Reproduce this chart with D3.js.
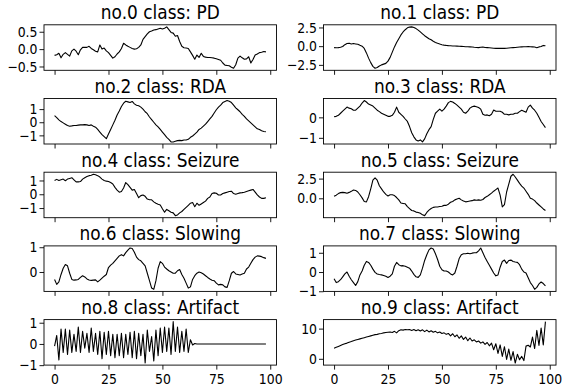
<!DOCTYPE html>
<html>
<head>
<meta charset="utf-8">
<script src="https://cdn.jsdelivr.net/npm/d3@7"></script>
<style>
  body { margin: 0; background: #fff; }
  svg { display: block; font-family: "DejaVu Sans", sans-serif; }
</style>
</head>
<body>
<div id="chart"></div>
<script>
// titles of the 10 panels
const titles = [
  'no.0 class: PD', 'no.1 class: PD',
  'no.2 class: RDA', 'no.3 class: RDA',
  'no.4 class: Seizure', 'no.5 class: Seizure',
  'no.6 class: Slowing', 'no.7 class: Slowing',
  'no.8 class: Artifact', 'no.9 class: Artifact'
];

// series values (one sample per index, 0..98)
const s0 = [-0.18,-0.16,-0.12,-0.25,-0.15,-0.1,-0.15,-0.2,-0.05,0.0,-0.06,-0.16,-0.02,0.05,0.05,0.05,0.08,0.02,-0.02,-0.06,
  -0.08,0.12,0.0,0.03,-0.05,-0.1,-0.18,-0.26,-0.22,-0.14,-0.08,0.02,0.17,0.12,0.08,0.05,0.02,0.0,0.01,0.05,
  0.12,0.28,0.36,0.44,0.5,0.52,0.55,0.56,0.58,0.6,0.58,0.6,0.64,0.56,0.48,0.46,0.37,0.39,0.22,0.08,
  0.04,0.03,0.02,-0.08,-0.18,-0.29,-0.17,-0.24,-0.12,-0.21,-0.23,-0.24,-0.24,-0.25,-0.26,-0.28,-0.3,-0.32,-0.4,-0.46,
  -0.47,-0.48,-0.52,-0.55,-0.45,-0.26,-0.2,-0.25,-0.29,-0.28,-0.22,-0.4,-0.3,-0.17,-0.14,-0.1,-0.09,-0.07,-0.08];
const s1 = [-0.2,-0.22,-0.2,-0.15,-0.05,0.2,0.35,0.4,0.3,0.35,0.3,0.25,0.12,0.0,-0.3,-0.9,-1.6,-2.2,-2.7,-2.95,
  -2.85,-2.65,-2.5,-2.4,-2.3,-2.0,-1.5,-0.8,-0.1,0.5,1.0,1.5,1.9,2.2,2.45,2.55,2.58,2.5,2.35,2.15,
  1.9,1.65,1.4,1.2,1.0,0.85,0.65,0.5,0.38,0.28,0.2,0.14,0.1,0.07,0.05,0.03,0.02,0.0,-0.02,-0.03,
  -0.05,-0.07,-0.08,-0.1,-0.12,-0.15,-0.17,-0.2,-0.15,-0.12,-0.18,-0.2,-0.22,-0.25,-0.28,-0.3,-0.3,-0.3,-0.3,-0.3,
  -0.28,-0.25,-0.22,-0.2,-0.18,-0.15,-0.12,-0.1,-0.08,-0.07,-0.05,-0.08,-0.1,-0.12,-0.2,-0.1,-0.05,0.1,0.05];
const s2 = [0.5,0.35,0.18,0.05,-0.05,-0.15,-0.25,-0.3,-0.28,-0.25,-0.25,-0.22,-0.2,-0.2,-0.18,-0.2,-0.25,-0.2,-0.3,-0.38,
  -0.55,-0.75,-0.95,-1.1,-1.25,-0.9,-0.55,-0.2,0.15,0.55,0.85,1.2,1.45,1.6,1.55,1.5,1.58,1.4,1.3,1.25,
  1.15,1.0,0.8,0.65,0.4,0.2,0.0,-0.2,-0.35,-0.55,-0.75,-0.95,-1.15,-1.3,-1.5,-1.5,-1.45,-1.4,-1.38,-1.4,
  -1.35,-1.35,-1.3,-1.15,-1.05,-0.9,-0.75,-0.55,-0.45,-0.3,-0.15,0.05,0.25,0.45,0.7,0.95,1.15,1.3,1.5,1.58,
  1.65,1.6,1.5,1.3,1.1,0.95,0.8,0.6,0.45,0.25,0.1,-0.05,-0.2,-0.35,-0.5,-0.55,-0.65,-0.7,-0.72];
const s3 = [0.03,0.05,0.1,0.2,0.3,0.4,0.5,0.45,0.42,0.35,0.35,0.45,0.55,0.7,0.82,0.75,0.65,0.6,0.55,0.45,
  0.35,0.28,0.2,0.15,0.1,0.05,0.05,0.1,0.25,0.5,0.25,0.15,0.05,-0.08,-0.2,-0.45,-0.75,-0.95,-1.1,-1.15,
  -1.1,-1.2,-1.05,-0.8,-0.6,-0.45,-0.1,0.2,0.3,0.4,0.3,0.4,0.55,0.72,0.78,0.75,0.68,0.6,0.5,0.4,
  0.25,0.2,0.3,0.45,0.52,0.55,0.52,0.48,0.4,0.15,0.1,0.12,0.08,0.15,0.36,0.3,0.3,0.3,0.25,0.15,
  0.15,0.12,0.15,0.15,0.2,0.2,0.28,0.35,0.3,0.25,0.5,0.6,0.45,0.35,0.2,0.0,-0.2,-0.35,-0.5];
const s4 = [1.0,1.08,1.0,1.05,1.1,0.98,1.1,1.15,1.2,1.05,0.9,0.9,0.92,1.1,1.2,1.28,1.35,1.38,1.45,1.42,
  1.35,1.25,1.1,1.0,0.95,0.92,0.85,0.75,0.5,0.3,0.15,0.2,0.45,0.85,0.7,0.5,0.3,0.35,0.05,-0.25,
  -0.1,-0.05,-0.15,-0.35,-0.4,-0.4,-0.55,-0.65,-0.72,-0.78,-1.05,-1.3,-1.1,-1.2,-1.3,-1.35,-1.55,-1.5,-1.35,-1.25,
  -1.1,-0.95,-0.8,-0.65,-0.6,-0.9,-0.65,-0.8,-0.7,-0.6,-0.5,-0.3,-0.2,0.05,0.1,0.07,-0.05,-0.05,0.05,0.1,
  0.15,0.2,0.22,0.05,0.0,0.05,0.1,0.12,0.15,0.2,0.25,0.3,0.35,0.15,-0.05,-0.2,-0.3,-0.3,-0.25];
const s5 = [0.25,0.4,0.6,0.72,0.75,0.72,0.65,0.75,0.88,1.05,1.0,0.8,0.45,0.05,-0.4,-0.45,0.2,1.2,2.3,2.6,
  2.3,1.6,1.2,0.8,0.5,0.3,0.45,0.45,0.35,0.1,-0.2,-0.6,-0.65,-0.7,-1.05,-1.3,-1.55,-1.6,-1.75,-1.8,
  -1.9,-2.1,-2.2,-1.8,-1.5,-1.3,-1.15,-1.1,-1.1,-1.05,-1.0,-0.9,-0.9,-0.75,-0.5,-0.4,-0.2,-0.1,0.0,-0.2,
  -0.35,-0.45,-0.4,-0.35,-0.3,-0.2,-0.25,-0.2,-0.25,-0.15,0.1,0.25,0.45,0.65,0.9,1.1,1.3,0.4,-1.1,-0.8,
  0.8,1.8,2.8,3.05,2.7,2.3,1.9,1.55,1.3,0.9,0.5,0.0,-0.1,-0.3,-0.6,-0.85,-1.1,-1.35,-1.55];
const s6 = [-0.3,-0.5,-0.4,-0.1,0.15,0.3,0.25,-0.05,-0.3,-0.33,-0.32,-0.3,-0.22,-0.15,-0.2,-0.28,-0.32,-0.34,-0.33,-0.32,
  -0.4,-0.33,-0.25,-0.17,-0.1,0.18,0.28,0.35,0.45,0.55,0.65,0.7,0.65,0.78,0.88,0.97,0.95,0.8,0.6,0.5,
  0.45,0.35,0.25,-0.05,-0.35,-0.65,-0.7,-0.35,0.15,0.42,0.35,0.2,0.12,0.05,0.0,-0.05,-0.05,0.05,0.1,-0.1,
  -0.25,-0.45,-0.65,-0.6,-0.3,-0.15,-0.05,0.0,-0.03,-0.08,-0.15,-0.22,-0.28,-0.33,-0.35,-0.45,-0.52,-0.5,-0.52,-0.6,
  -0.62,-0.35,-0.05,0.02,-0.08,-0.1,-0.12,-0.08,-0.05,0.12,0.2,0.35,0.5,0.6,0.65,0.64,0.62,0.58,0.55];
const s7 = [-0.35,-0.55,-0.5,-0.4,-0.25,-0.1,0.0,-0.22,-0.4,-0.55,-0.7,-0.5,-0.15,0.05,0.35,0.55,0.5,0.35,0.15,-0.02,
  -0.1,-0.13,-0.15,-0.18,-0.22,-0.28,-0.22,-0.1,0.3,0.5,0.38,0.32,0.33,0.3,0.25,0.2,0.05,-0.12,-0.25,-0.28,
  -0.15,0.2,0.6,0.9,1.15,1.25,1.2,0.95,0.65,0.3,0.12,0.05,0.05,0.0,-0.1,-0.15,-0.05,0.3,0.7,0.9,
  0.95,0.95,0.98,0.95,0.98,1.0,1.0,1.1,1.25,1.0,0.75,0.55,0.35,0.15,-0.05,-0.2,-0.15,0.25,0.55,0.62,
  0.45,0.6,0.62,0.55,0.52,0.5,0.38,0.15,0.0,-0.05,-0.3,-0.55,-0.7,-0.9,-0.8,-0.62,-0.52,-0.6,-0.72];
const s8 = [-0.1,0.4,-0.75,0.7,-0.4,0.7,-0.5,0.65,-0.4,0.45,-0.35,0.8,-0.4,0.6,-0.2,0.5,-0.4,0.75,-0.35,0.5,
  -0.5,0.6,-0.7,0.55,-0.5,0.6,-0.55,0.45,-0.65,0.45,-0.55,0.5,-0.65,0.45,-0.5,0.55,-0.65,0.6,-0.7,0.5,
  -0.55,0.45,-0.9,0.65,-0.35,0.35,-0.8,0.65,-0.55,0.75,-0.4,0.8,-0.35,0.75,-0.5,1.05,-0.35,0.8,-0.4,0.6,
  -0.35,0.7,-0.4,0.2,-0.05,0.02,0,0,0,0,0,0,0,0,0,0,0,0,0,0,
  0,0,0,0,0,0,0,0,0,0,0,0,0,0,0,0,0,0,0];
const s9 = [3.5,3.8,4.1,4.4,4.7,5.0,5.2,5.5,5.7,6.0,6.2,6.4,6.6,6.8,7.0,7.2,7.4,7.6,7.8,8.0,
  8.1,8.3,8.4,8.6,8.7,8.8,8.9,8.7,9.1,8.6,9.3,9.6,9.5,9.7,9.6,9.7,9.4,9.7,9.3,9.6,
  9.2,9.6,9.0,9.5,8.9,9.3,8.8,9.1,8.6,8.9,8.4,8.6,8.1,8.4,7.6,8.3,7.3,7.9,6.8,7.6,
  6.4,7.2,6.0,6.9,5.9,6.3,5.6,5.9,5.2,5.6,4.8,5.4,4.3,5.2,3.0,5.0,1.8,4.6,0.8,4.0,
  -0.2,3.2,-0.5,2.4,-1.4,1.5,-0.3,0.8,-0.6,4.2,4.5,3.9,7.2,3.4,9.4,4.4,10.2,4.6,12.3];
const series = [s0, s1, s2, s3, s4, s5, s6, s7, s8, s9];

// tick values and labels
const xTicks = [0, 25, 50, 75, 100];
const yTicks = [
  [-0.5, 0, 0.5], [-2.5, 0, 2.5],
  [-1, 0, 1], [-1, 0],
  [-1, 0, 1], [0, 2.5],
  [0, 1], [-1, 0, 1],
  [-1, 0, 1], [0, 10]
];
const yDecimals = [1, 1, 0, 0, 0, 1, 0, 0, 0, 0];

// layout (the picture is a bit squeezed horizontally, so text is too)
const W = 562, H = 388;
const colLeft = [44, 323.5];
const axW = 232.5, axH = 45.5;
const rowTop = r => 24.8 + 73.7 * r;
const sx = 0.86;
const tickLen = 4.5;

const svg = d3.select('#chart').append('svg')
  .attr('width', W).attr('height', H);

const fmtMinus = (v, dec) => d3.format(dec ? '.1f' : 'd')(v).replace('-', '\u2212');

series.forEach((data, k) => {
  const col = k % 2, row = Math.floor(k / 2);
  const g = svg.append('g')
    .attr('transform', `translate(${colLeft[col]},${rowTop(row)})`);

  const n = data.length - 1;
  const x = d3.scaleLinear()
    .domain([-0.05 * n, n * 1.05])
    .range([0, axW]);

  const [lo, hi] = d3.extent(data);
  const pad = (hi - lo) * 0.05;
  const y = d3.scaleLinear()
    .domain([lo - pad, hi + pad])
    .range([axH, 0]);

  // x axis (labels only on bottom row)
  const xa = g.append('g')
    .attr('transform', `translate(0,${axH})`)
    .call(d3.axisBottom(x).tickValues(xTicks).tickSize(tickLen).tickPadding(4.5)
      .tickFormat(row === 4 ? d3.format('d') : ''));
  xa.select('.domain').remove();
  xa.selectAll('text')
    .attr('font-size', 14.5).attr('fill', '#000').attr('font-family', 'DejaVu Sans')
    .attr('transform', `scale(${sx},1)`);
  xa.selectAll('line').attr('stroke', '#000').attr('stroke-width', 0.9);

  // y axis
  const ya = g.append('g')
    .call(d3.axisLeft(y).tickValues(yTicks[k]).tickSize(tickLen).tickPadding(2)
      .tickFormat(v => fmtMinus(v, yDecimals[k])));
  ya.select('.domain').remove();
  ya.selectAll('text')
    .attr('font-size', 14.5).attr('fill', '#000').attr('font-family', 'DejaVu Sans')
    .attr('x', -(tickLen + 2) / sx)
    .attr('transform', `scale(${sx},1)`);
  ya.selectAll('line').attr('stroke', '#000').attr('stroke-width', 0.9);

  // line
  g.append('path')
    .datum(data)
    .attr('fill', 'none')
    .attr('stroke', '#000')
    .attr('stroke-width', 1.1)
    .attr('stroke-linejoin', 'round')
    .attr('d', d3.line().x((d, i) => x(i)).y(d => y(d)));

  // frame
  g.append('rect')
    .attr('width', axW).attr('height', axH)
    .attr('fill', 'none')
    .attr('stroke', '#000')
    .attr('stroke-width', 0.9);

  // title
  g.append('text')
    .attr('transform', `translate(${axW / 2},-5.5) scale(0.87,1)`)
    .attr('text-anchor', 'middle')
    .attr('font-size', 19.5)
    .attr('fill', '#000')
    .text(titles[k]);
});
</script>
</body>
</html>
